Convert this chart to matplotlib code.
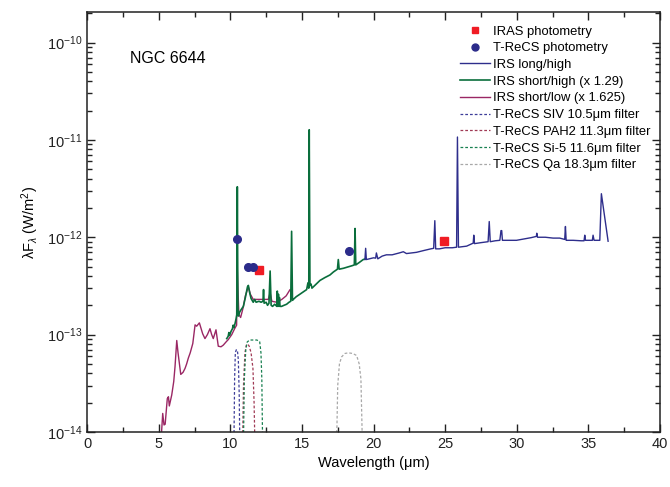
import matplotlib
matplotlib.use("Agg")
import matplotlib.pyplot as plt
from matplotlib.ticker import MultipleLocator, FixedLocator, NullFormatter, LogFormatterMathtext
from matplotlib.lines import Line2D

plt.rcParams['font.family'] = ['Liberation Sans', 'DejaVu Sans']
plt.rcParams['mathtext.fontset'] = 'custom'
plt.rcParams['mathtext.rm'] = 'Liberation Sans'
plt.rcParams['mathtext.it'] = 'Liberation Sans:italic'

# ---------------- data ----------------
# IRS short/low (x 1.625)
sl_wave = [5.14, 5.20, 5.28, 5.37, 5.45, 5.60, 5.68, 5.74, 5.91, 6.05, 6.14, 6.26, 6.35,
           6.54, 6.70, 6.84, 6.95, 7.07, 7.20, 7.38, 7.54, 7.65, 7.84, 8.07, 8.23, 8.40,
           8.58, 8.70, 8.81, 9.00, 9.16, 9.35, 9.51, 9.70, 9.86, 10.10, 10.30, 10.44,
           10.48, 10.53, 10.60, 10.72, 10.90, 11.05, 11.26, 11.40, 11.60, 11.80, 12.00,
           12.30, 12.65, 12.78, 12.90, 13.24, 13.60, 13.90, 14.17, 14.22]
sl_flux = [8e-15, 1.0e-14, 1.55e-14, 1.18e-14, 1.2e-14, 2.2e-14, 2.3e-14, 1.85e-14, 2.4e-14,
           3.3e-14, 4.7e-14, 8.7e-14, 6.5e-14, 3.9e-14, 4.1e-14, 4.5e-14, 5.0e-14, 5.75e-14,
           6.5e-14, 8.1e-14, 1.26e-13, 1.22e-13, 1.32e-13, 1.02e-13, 9.1e-14, 1.0e-13,
           1.15e-13, 1.0e-13, 9.1e-14, 1.12e-13, 7.6e-14, 7.5e-14, 7.8e-14, 8.4e-14, 8.9e-14,
           1.0e-13, 1.15e-13, 1.25e-13, 5.2e-13, 3.0e-13, 1.6e-13, 1.5e-13, 1.9e-13, 2.5e-13,
           3.1e-13, 2.6e-13, 2.3e-13, 2.3e-13, 2.3e-13, 2.3e-13, 2.3e-13, 2.7e-13, 2.2e-13,
           2.15e-13, 2.3e-13, 2.5e-13, 2.9e-13, 2.8e-13]

# IRS short/high (x 1.29)
sh_wave = [9.75, 9.85, 9.90, 9.95, 10.05, 10.15, 10.20, 10.25, 10.33, 10.40, 10.45, 10.49,
           10.53, 10.56, 10.65, 10.75, 10.91, 11.05, 11.20, 11.26, 11.35, 11.45, 11.60,
           11.70, 11.80, 12.00, 12.15, 12.28, 12.32, 12.36, 12.50, 12.60, 12.70, 12.78,
           12.85, 12.95, 13.10, 13.25, 13.28, 13.31, 13.36, 13.40, 13.43, 13.47, 13.58,
           13.75, 13.93, 14.10, 14.22, 14.28, 14.34, 14.40, 14.60, 14.86, 15.10, 15.33,
           15.42, 15.48, 15.51, 15.56, 15.60, 15.64, 15.70, 15.90, 16.26, 16.60, 16.96,
           17.20, 17.48, 17.54, 17.60, 17.90, 18.20, 18.50, 18.66, 18.71, 18.76, 19.00,
           19.28, 19.45]
sh_flux = [9.1e-14, 9.6e-14, 1.05e-13, 9.8e-14, 1.08e-13, 1.15e-13, 1.25e-13, 1.18e-13,
           1.3e-13, 1.45e-13, 1.6e-13, 3.3e-12, 1.9e-13, 1.55e-13, 1.7e-13, 1.8e-13,
           1.95e-13, 2.4e-13, 3.1e-13, 3.2e-13, 2.7e-13, 2.35e-13, 2.15e-13, 2.3e-13,
           2.15e-13, 2.2e-13, 2.15e-13, 2.2e-13, 2.9e-13, 2.1e-13, 2.15e-13, 2.0e-13,
           2.1e-13, 4.5e-13, 2.0e-13, 1.95e-13, 2.05e-13, 1.95e-13, 2.8e-13, 1.95e-13,
           2.6e-13, 1.95e-13, 2.4e-13, 1.95e-13, 1.95e-13, 2.0e-13, 2.05e-13, 2.15e-13,
           2.2e-13, 1.15e-12, 2.25e-13, 2.3e-13, 2.45e-13, 2.6e-13, 2.75e-13, 2.9e-13,
           3.4e-13, 3.0e-13, 1.27e-11, 3.2e-13, 3.3e-13, 3.3e-13, 3.0e-13, 3.2e-13, 3.6e-13,
           3.85e-13, 4.1e-13, 4.4e-13, 4.7e-13, 5.9e-13, 4.7e-13, 4.8e-13, 4.95e-13,
           5.1e-13, 5.2e-13, 1.23e-12, 5.2e-13, 5.5e-13, 5.9e-13, 6.0e-13]

# IRS long/high
lh_wave = [19.40, 19.45, 19.50, 19.70, 20.00, 20.15, 20.20, 20.30, 20.60, 20.90, 21.30,
           21.80, 22.08, 22.30, 22.65, 23.00, 23.50, 24.00, 24.20, 24.28, 24.34, 24.60,
           25.00, 25.50, 25.80, 25.86, 25.93, 26.20, 26.50, 26.96, 27.00, 27.05, 27.50,
           28.00, 28.08, 28.15, 28.50, 28.82, 28.90, 28.95, 29.00, 29.50, 29.98, 30.50,
           31.00, 31.37, 31.40, 31.45, 32.00, 32.54, 33.00, 33.35, 33.40, 33.45, 33.94,
           34.50, 34.70, 34.75, 34.80, 35.28, 35.33, 35.40, 35.80, 35.91, 36.38]
lh_flux = [5.9e-13, 7.7e-13, 5.9e-13, 6.0e-13, 6.15e-13, 6.1e-13, 6.9e-13, 6.0e-13, 6.4e-13,
           6.6e-13, 6.6e-13, 6.9e-13, 7.1e-13, 6.8e-13, 6.9e-13, 7.0e-13, 7.3e-13, 7.6e-13,
           7.7e-13, 1.48e-12, 7.6e-13, 7.6e-13, 7.8e-13, 7.8e-13, 7.9e-13, 1.07e-11,
           7.9e-13, 8.0e-13, 8.1e-13, 8.7e-13, 1.05e-12, 8.6e-13, 8.8e-13, 9.0e-13,
           1.45e-12, 9.0e-13, 9.2e-13, 9.3e-13, 1.17e-12, 1.17e-12, 9.3e-13, 9.3e-13,
           9.3e-13, 9.6e-13, 9.9e-13, 1.02e-12, 1.1e-12, 1.0e-12, 1.0e-12, 9.8e-13,
           9.8e-13, 9.5e-13, 1.29e-12, 9.3e-13, 9.3e-13, 9.2e-13, 9.2e-13, 1.05e-12,
           9.3e-13, 9.3e-13, 1.05e-12, 9.3e-13, 9.3e-13, 2.8e-12, 9.1e-13]

# Photometry
iras_wave = [11.98, 24.9]
iras_flux = [4.6e-13, 9.2e-13]
trecs_wave = [10.45, 11.26, 11.56, 18.28]
trecs_flux = [9.6e-13, 4.9e-13, 4.9e-13, 7.3e-13]

# Filter transmission curves (scaled)
siv_wave = [10.24, 10.30, 10.35, 10.42, 10.50, 10.56, 10.62, 10.68]
siv_flux = [5e-15, 3.5e-14, 6.5e-14, 7.0e-14, 6.8e-14, 5.5e-14, 2.5e-14, 5e-15]
pah2_wave = [10.84, 10.92, 11.02, 11.12, 11.22, 11.32, 11.45, 11.58, 11.66, 11.74]
pah2_flux = [5e-15, 3.0e-14, 6.5e-14, 7.8e-14, 8.0e-14, 7.6e-14, 6.5e-14, 4.5e-14, 2e-14, 5e-15]
si5_wave = [10.90, 10.98, 11.08, 11.18, 11.35, 11.60, 11.85, 12.05, 12.14, 12.20, 12.27]
si5_flux = [5e-15, 3.5e-14, 7.0e-14, 8.4e-14, 8.8e-14, 8.8e-14, 8.8e-14, 8.5e-14, 6.5e-14, 3.5e-14, 5e-15]
qa_wave = [17.40, 17.50, 17.62, 17.77, 18.00, 18.24, 18.55, 18.82, 19.00, 19.12, 19.25]
qa_flux = [5e-15, 3.0e-14, 5.0e-14, 5.9e-14, 6.4e-14, 6.5e-14, 6.4e-14, 6.1e-14, 5.0e-14, 3.5e-14, 5e-15]

y_major = [1e-14, 1e-13, 1e-12, 1e-11, 1e-10]
y_minor = [m * d for d in [1e-14, 1e-13, 1e-12, 1e-11, 1e-10] for m in range(2, 10)
           if m * d < 2.05e-10]

# ---------------- plot ----------------
fig = plt.figure(figsize=(6.70, 4.87), dpi=100)
ax = fig.add_axes([0.130, 0.113, 0.855, 0.862])

c_blue = '#2e2e8c'
c_green = '#0a6e3c'
c_purple = '#9a2764'

ax.plot(sl_wave, sl_flux, color=c_purple, lw=1.0, zorder=2)
ax.plot(sh_wave, sh_flux, color=c_green, lw=1.2, zorder=3)
ax.plot(lh_wave, lh_flux, color=c_blue, lw=1.0, zorder=3)

dash = (0, (2.2, 1.6))
ax.plot(siv_wave, siv_flux, color='#3d3d99', lw=0.9, ls=dash, zorder=2)
ax.plot(pah2_wave, pah2_flux, color='#a03a55', lw=0.9, ls=dash, zorder=2)
ax.plot(si5_wave, si5_flux, color='#188050', lw=0.9, ls=dash, zorder=2)
ax.plot(qa_wave, qa_flux, color='#a8a8a8', lw=0.9, ls=dash, zorder=2)

ax.plot(iras_wave, iras_flux, ls='none', marker='s', ms=5.5, color='#f01c24', zorder=5)
ax.plot(trecs_wave, trecs_flux, ls='none', marker='o', ms=5.5, color='#2b2b8a', zorder=5)

ax.set_yscale('log')
ax.set_xlim(0, 40)
ax.set_ylim(1e-14, 2.05e-10)

ax.xaxis.set_major_locator(MultipleLocator(5))
ax.xaxis.set_minor_locator(MultipleLocator(2.5))
ax.yaxis.set_major_locator(FixedLocator(y_major))
ax.yaxis.set_major_formatter(LogFormatterMathtext())
ax.yaxis.set_minor_locator(FixedLocator(y_minor))
ax.yaxis.set_minor_formatter(NullFormatter())

ax.tick_params(which='both', direction='in', top=True, right=True, labelsize=10.5,
               width=1.0, colors='#222222')
ax.tick_params(which='major', length=6)
ax.tick_params(which='minor', length=3.5)
for s in ax.spines.values():
    s.set_linewidth(1.1)
    s.set_color('#222222')

ax.set_xlabel('Wavelength (\u03bcm)', fontsize=10.5)
ax.set_ylabel('\u03bbF$_{\\lambda}$ (W/m$^2$)', fontsize=10.5)

ax.text(3.0, 6.9e-11, 'NGC 6644', fontsize=11.5, ha='left', va='center')

handles = [
    Line2D([], [], ls='none', marker='s', ms=5, color='#f01c24'),
    Line2D([], [], ls='none', marker='o', ms=5, color='#2b2b8a'),
    Line2D([], [], color=c_blue, lw=1.0),
    Line2D([], [], color=c_green, lw=1.2),
    Line2D([], [], color=c_purple, lw=1.0),
    Line2D([], [], color='#3d3d99', lw=0.9, ls=dash),
    Line2D([], [], color='#a03a55', lw=0.9, ls=dash),
    Line2D([], [], color='#188050', lw=0.9, ls=dash),
    Line2D([], [], color='#a8a8a8', lw=0.9, ls=dash),
]
labels = ['IRAS photometry', 'T-ReCS photometry', 'IRS long/high',
          'IRS short/high (x 1.29)', 'IRS short/low (x 1.625)',
          'T-ReCS SIV 10.5\u03bcm filter', 'T-ReCS PAH2 11.3\u03bcm filter',
          'T-ReCS Si-5 11.6\u03bcm filter', 'T-ReCS Qa 18.3\u03bcm filter']
leg = ax.legend(handles, labels, loc='upper right', bbox_to_anchor=(1.0, 0.99),
                frameon=False, fontsize=9.4, handlelength=2.3, handletextpad=0.25,
                labelspacing=0.35, borderaxespad=0.3)

fig.savefig('out.png', dpi=100)
